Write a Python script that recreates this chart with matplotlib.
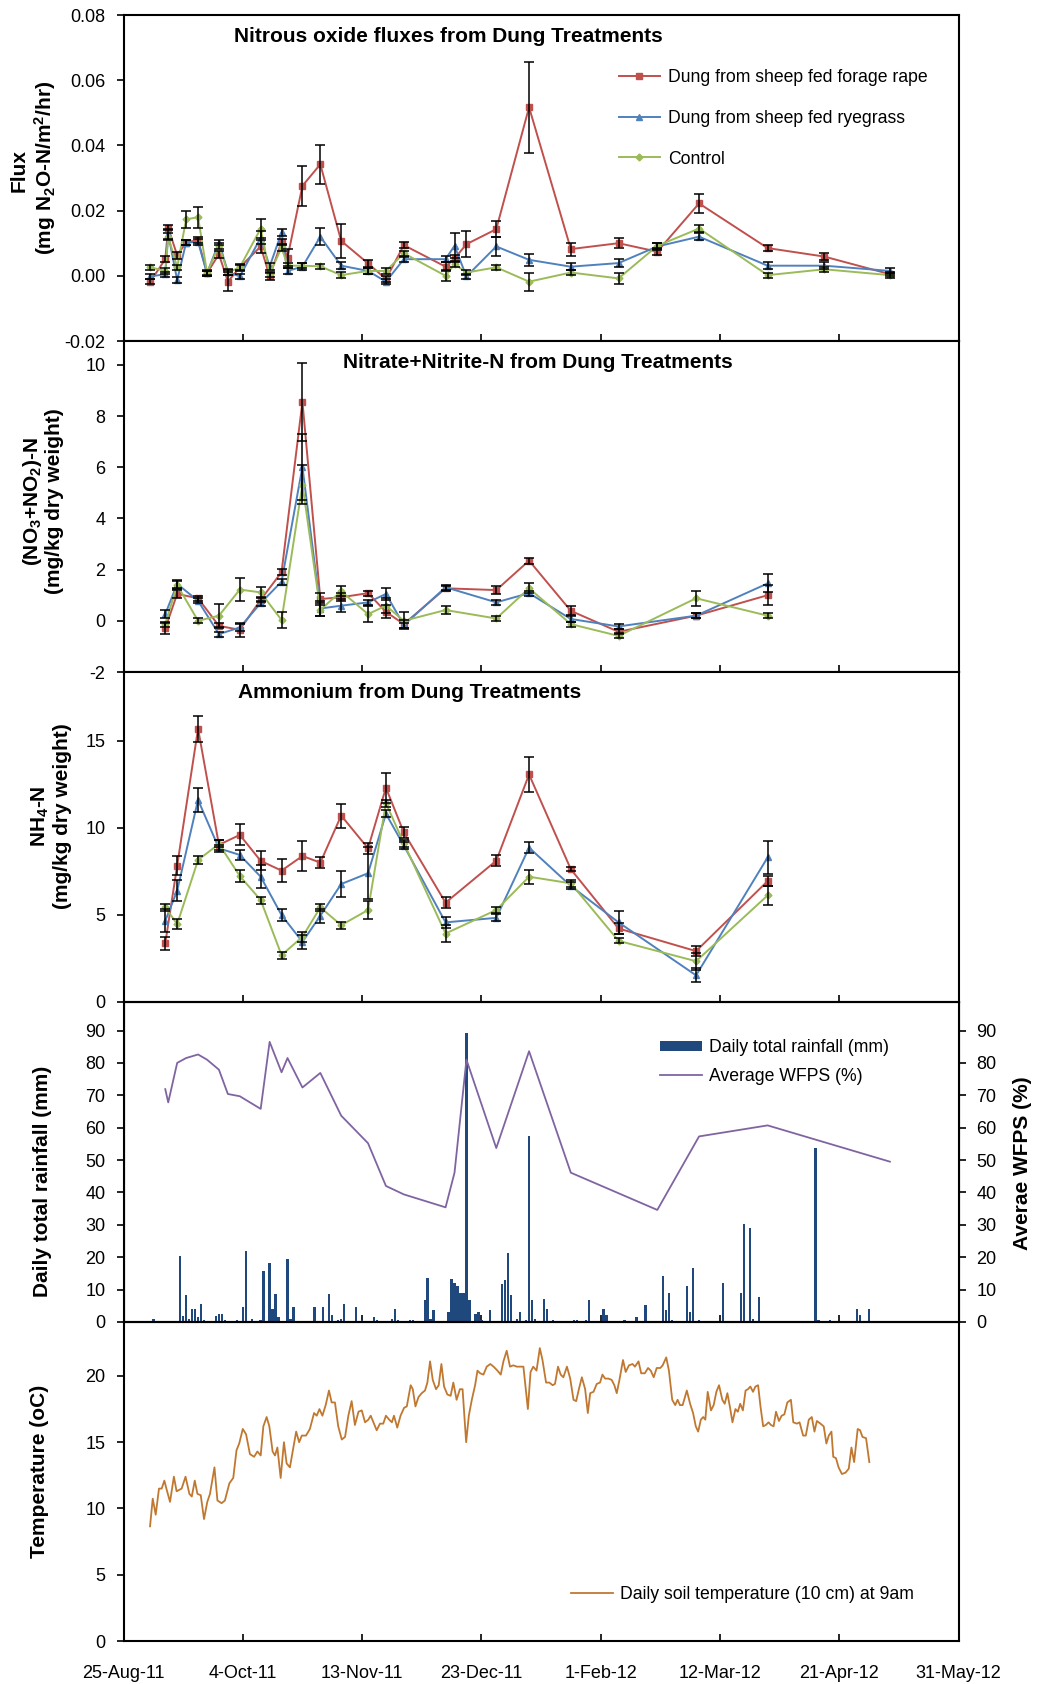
import numpy as np
import matplotlib
matplotlib.use("Agg")
import matplotlib.pyplot as plt
from matplotlib.patches import Patch
from matplotlib.lines import Line2D

plt.rcParams["font.family"] = ["Liberation Sans", "DejaVu Sans"]
plt.rcParams["axes.unicode_minus"] = False
plt.rcParams["mathtext.fontset"] = "custom"
plt.rcParams["mathtext.rm"] = "Liberation Sans:bold"
plt.rcParams["mathtext.bf"] = "Liberation Sans:bold"
plt.rcParams["mathtext.default"] = "bf"

# x axis: days since 25-Aug-11
date_ticks = [0, 40, 80, 120, 160, 200, 240, 280]
date_labels = ["25-Aug-11", "4-Oct-11", "13-Nov-11", "23-Dec-11",
               "1-Feb-12", "12-Mar-12", "21-Apr-12", "31-May-12"]

# nitrous oxide flux (mg N2O-N/m2/hr)
flux_days = [9, 14, 15, 18, 21, 25, 28, 32, 35, 39, 46, 49, 53, 55, 60, 66,
             73, 82, 88, 94, 108, 111, 115, 125, 136, 150, 166, 179, 193, 216, 235, 257]
flux_rape = [-0.0018, 0.0051, 0.0147, 0.0063, 0.0102, 0.0110, 0.0008, 0.0066,
             -0.0018, 0.0026, 0.0090, -0.0002, 0.0104, 0.0056, 0.0276, 0.0342,
             0.0107, 0.0038, -0.0010, 0.0094, 0.0028, 0.0053, 0.0097, 0.0143,
             0.0517, 0.0082, 0.0100, 0.0074, 0.0222, 0.0085, 0.0059, 0.0005]
flux_rape_se = [0.0008, 0.0010, 0.0008, 0.0010, 0.0008, 0.0008, 0.0008, 0.0010,
                0.0030, 0.0010, 0.0020, 0.0010, 0.0010, 0.0025, 0.0061, 0.0060,
                0.0052, 0.0010, 0.0008, 0.0010, 0.0013, 0.0010, 0.0039, 0.0024,
                0.0140, 0.0020, 0.0015, 0.0010, 0.0028, 0.0010, 0.0010, 0.0007]
flux_rye = [-0.0002, 0.0005, 0.0128, -0.0013, 0.0102, 0.0104, 0.0008, 0.0102,
            0.0012, -0.0002, 0.0117, 0.0028, 0.0133, 0.0015, 0.0028, 0.0120,
            0.0031, 0.0015, -0.0018, 0.0051, 0.0051, 0.0092, -0.0002, 0.0090,
            0.0049, 0.0028, 0.0039, 0.0090, 0.0120, 0.0031, 0.0031, 0.0015]
flux_rye_se = [0.0008, 0.0008, 0.0015, 0.0008, 0.0008, 0.0008, 0.0008, 0.0008,
               0.0010, 0.0008, 0.0020, 0.0010, 0.0010, 0.0010, 0.0010, 0.0027,
               0.0010, 0.0008, 0.0008, 0.0008, 0.0010, 0.0038, 0.0008, 0.0028,
               0.0018, 0.0010, 0.0012, 0.0010, 0.0010, 0.0010, 0.0010, 0.0008]
flux_ctrl = [0.0026, 0.0015, 0.0120, 0.0026, 0.0173, 0.0180, 0.0010, 0.0092,
             0.0010, 0.0026, 0.0145, 0.0005, 0.0087, 0.0031, 0.0031, 0.0029,
             0.0002, 0.0015, 0.0015, 0.0069, 0.0000, 0.0036, 0.0010, 0.0026,
             -0.0018, 0.0010, -0.0008, 0.0092, 0.0145, 0.0002, 0.0020, 0.0002]
flux_ctrl_se = [0.0008, 0.0008, 0.0010, 0.0008, 0.0027, 0.0032, 0.0008, 0.0010,
                0.0008, 0.0008, 0.0030, 0.0008, 0.0010, 0.0008, 0.0008, 0.0008,
                0.0010, 0.0008, 0.0008, 0.0008, 0.0017, 0.0010, 0.0008, 0.0008,
                0.0028, 0.0008, 0.0017, 0.0010, 0.0010, 0.0008, 0.0008, 0.0008]

# soil sampling (mg/kg dry weight)
soil_days = [14, 18, 25, 32, 39, 46, 53, 60, 66, 73, 82, 88, 94, 108, 125, 136, 150, 166, 192, 216]
no3_rape = [-0.30, 1.05, 0.88, -0.20, -0.35, 0.82, 1.90, 8.56, 0.85, 0.92,
            1.08, 0.35, -0.13, 1.27, 1.20, 2.35, 0.39, -0.43, 0.20, 1.00]
no3_rape_se = [0.20, 0.15, 0.10, 0.10, 0.28, 0.10, 0.12, 1.53, 0.25, 0.15,
               0.10, 0.25, 0.15, 0.10, 0.15, 0.12, 0.17, 0.10, 0.10, 0.38]
no3_rye = [0.26, 1.44, 0.78, -0.52, -0.26, 0.69, 1.53, 6.01, 0.48, 0.59,
           0.72, 1.05, -0.17, 1.31, 0.72, 1.08, 0.07, -0.22, 0.20, 1.46]
no3_rye_se = [0.15, 0.15, 0.10, 0.10, 0.12, 0.10, 0.12, 1.30, 0.30, 0.25,
              0.10, 0.25, 0.10, 0.10, 0.10, 0.10, 0.10, 0.10, 0.10, 0.35]
no3_ctrl = [-0.13, 1.40, 0.00, 0.20, 1.22, 1.11, 0.03, 5.32, 0.43, 1.15,
            0.26, 0.59, 0.00, 0.42, 0.09, 1.27, -0.13, -0.59, 0.88, 0.20]
no3_ctrl_se = [0.10, 0.15, 0.10, 0.45, 0.44, 0.20, 0.32, 0.75, 0.25, 0.20,
               0.30, 0.30, 0.33, 0.15, 0.10, 0.20, 0.10, 0.10, 0.30, 0.10]

nh4_rape = [3.36, 7.83, 15.69, 9.02, 9.59, 8.10, 7.54, 8.38, 8.00, 10.70,
            8.82, 12.30, 9.73, 5.70, 8.11, 13.06, 7.62, 4.22, 2.92, 6.94]
nh4_rape_se = [0.35, 0.56, 0.75, 0.30, 0.60, 0.55, 0.65, 0.88, 0.30, 0.69,
               0.30, 0.85, 0.30, 0.30, 0.30, 1.02, 0.10, 0.30, 0.30, 0.30]
nh4_rye = [4.66, 6.39, 11.60, 8.82, 8.44, 7.19, 4.99, 3.45, 4.95, 6.77,
           7.39, 10.80, 8.98, 4.57, 4.83, 8.86, 6.66, 4.57, 1.53, 8.30]
nh4_rye_se = [0.65, 0.60, 0.67, 0.20, 0.30, 0.67, 0.35, 0.40, 0.40, 0.75,
              1.50, 0.20, 0.20, 0.30, 0.20, 0.30, 0.20, 0.64, 0.40, 0.93]
nh4_ctrl = [5.43, 4.47, 8.15, 9.07, 7.23, 5.85, 2.69, 3.74, 5.43, 4.41,
            5.28, 11.41, 9.11, 3.93, 5.28, 7.19, 6.81, 3.51, 2.34, 6.12]
nh4_ctrl_se = [0.20, 0.30, 0.25, 0.20, 0.35, 0.20, 0.20, 0.30, 0.20, 0.20,
               0.50, 0.20, 0.20, 0.50, 0.20, 0.40, 0.20, 0.15, 0.50, 0.55]

# daily rainfall (mm)
rain_days = [10, 19, 20, 21, 22, 23, 24, 25, 26, 27, 31, 32, 33, 34, 38, 40, 41, 43,
             46, 47, 49, 50, 51, 52, 55, 56, 57, 64, 67, 69, 70, 72, 73, 74, 78, 80,
             84, 85, 90, 91, 92, 96, 97, 101, 102, 103, 104, 109, 110, 111, 112, 113,
             114, 115, 116, 118, 119, 120, 123, 127, 128, 129, 130, 132, 133, 135,
             136, 137, 138, 141, 142, 144, 151, 152, 155, 156, 161, 162, 168, 172,
             175, 181, 182, 183, 184, 189, 190, 191, 193, 201, 207, 208, 210, 211,
             213, 232, 233, 237, 246, 247, 250]
rain_mm = [1.0, 20.3, 2.0, 8.3, 1.0, 4.1, 4.1, 1.5, 5.7, 0.5, 2.0, 2.4, 2.6, 0.5,
           0.5, 4.6, 21.9, 1.0, 0.5, 15.8, 18.3, 4.1, 8.6, 1.5, 19.3, 1.0, 4.6,
           4.6, 4.6, 8.6, 2.1, 0.5, 1.0, 5.7, 4.6, 0.5, 1.5, 0.5, 1.0, 4.1, 0.5,
           0.5, 0.5, 6.7, 13.7, 1.0, 3.6, 3.1, 13.2, 12.1, 11.1, 9.1, 9.1, 89.3,
           6.7, 2.6, 3.1, 0.5, 3.6, 11.7, 13.1, 21.4, 8.3, 1.0, 3.1, 0.5, 57.3,
           6.7, 1.0, 7.2, 4.1, 0.5, 0.5, 0.5, 0.5, 6.7, 4.1, 2.1, 0.5, 1.5, 5.2,
           14.2, 3.6, 9.1, 0.5, 11.1, 3.1, 16.7, 0.5, 12.1, 9.1, 30.4, 28.9, 1.0,
           7.7, 53.7, 0.5, 0.5, 4.1, 2.1, 4.1]

# average water filled pore space (%)
wfps_days = [14, 15, 18, 21, 25, 28, 32, 35, 39, 46, 49, 53, 55, 60, 66, 73, 82,
             88, 94, 108, 111, 115, 125, 136, 150, 179, 193, 216, 257]
wfps = [71.9, 67.8, 80.0, 81.5, 82.6, 81.0, 77.9, 70.4, 69.7, 65.8, 86.5, 77.1,
        81.5, 72.4, 76.9, 63.7, 55.2, 42.0, 39.4, 35.4, 46.1, 81.0, 53.7, 83.6,
        46.1, 34.6, 57.3, 60.7, 49.5]

# daily soil temperature at 10 cm (oC)
temp_days = [8.9, 9.8, 10.8, 11.9, 12.8, 13.7, 14.5, 15.6, 16.9, 17.8,
             19.5, 20.8, 22.1, 22.9, 23.9, 24.8, 25.9, 27.0, 28.1, 29.0,
             30.5, 31.5, 32.9, 34.0, 35.5, 36.8, 37.9, 38.8, 40.0, 41.1,
             42.4, 43.8, 44.9, 46.0, 46.9, 48.0, 48.9, 50.0, 50.8, 51.6,
             52.7, 53.8, 54.7, 55.8, 56.9, 57.9, 58.9, 59.8, 61.2, 62.5,
             63.9, 64.8, 65.7, 66.7, 67.8, 68.9, 69.8, 70.9, 72.0, 73.2,
             74.3, 75.4, 76.5, 77.6, 78.8, 79.9, 81.0, 82.1, 82.9, 83.8,
             84.9, 86.0, 87.1, 88.0, 89.1, 90.0, 90.7, 91.8, 92.9, 94.1,
             95.0, 96.3, 97.0, 97.9, 98.9, 100.0, 101.1, 101.9, 102.8, 103.7,
             104.8, 105.7, 106.6, 107.5, 108.6, 109.7, 110.6, 111.7, 112.8, 113.7,
             114.9, 115.8, 116.8, 117.9, 118.7, 119.6, 120.7, 121.8, 123.0, 124.1,
             125.4, 126.5, 127.4, 128.5, 129.6, 130.7, 131.9, 133.0, 134.1, 135.6,
             136.5, 137.4, 138.5, 139.6, 140.5, 141.7, 142.8, 143.9, 144.7, 145.7,
             146.6, 147.5, 148.7, 149.8, 150.9, 151.8, 152.7, 153.7, 154.8, 155.7,
             156.5, 157.6, 158.7, 159.8, 160.6, 161.5, 162.6, 163.7, 164.6, 165.4,
             166.3,
             167.5, 168.4, 169.5, 170.7, 171.5, 172.7, 173.6, 174.8, 175.9, 176.8,
             177.8, 178.8, 180.0, 180.8, 182.0, 182.9, 184.0, 185.0, 185.8, 186.6,
             187.5, 188.9, 190.0, 191.0, 191.9, 192.7, 193.6, 194.4, 195.1, 195.9,
             197.0, 197.9, 198.8, 199.7, 200.8, 201.6, 202.5, 203.4, 204.2, 205.2,
             206.0, 206.8, 207.7, 208.6, 209.4, 210.2, 211.1, 211.9, 212.8, 213.6,
             214.5, 215.4, 216.3, 217.1, 218.0, 218.8, 219.8, 220.7, 221.6, 222.6,
             223.8, 224.6, 225.8, 226.7, 227.9, 228.8, 229.8, 230.8, 231.7, 232.5,
             233.7, 234.8, 235.7, 236.5, 237.4, 238.0, 238.9, 239.8, 240.9, 242.1,
             243.2, 244.1, 245.0, 246.2, 247.0, 247.8, 249.0, 250.1]
temp_c = [8.65, 10.74, 9.53, 11.5, 11.5, 12.1, 11.4, 10.5, 12.4, 11.3,
          11.5, 12.4, 11.1, 10.9, 12.1, 11.1, 11.0, 9.2, 10.5, 11.1,
          13.1, 10.6, 10.4, 10.6, 11.9, 12.3, 14.4, 14.9, 16.0, 15.6,
          14.1, 13.9, 14.3, 14.0, 16.2, 16.9, 16.2, 14.3, 14.0, 14.6,
          12.3, 15.0, 13.4, 13.1, 14.5, 15.8, 15.0, 15.5, 15.5, 16.0,
          17.2, 17.0, 17.5, 17.0, 17.8, 18.9, 18.0, 18.0, 16.2, 15.2,
          15.4, 17.0, 18.1, 16.3, 17.3, 17.4, 16.5, 16.7, 17.0, 16.5,
          15.9, 16.4, 16.4, 17.0, 16.7, 16.5, 17.0, 16.1, 17.0, 17.6,
          17.7, 19.3, 19.0, 17.7, 18.4, 18.7, 18.9, 19.5, 21.1, 19.7,
          19.0, 19.3, 20.9, 19.2, 18.6, 18.5, 19.5, 18.2, 19.0, 19.0,
          15.0, 17.0, 18.2, 19.3, 20.4, 20.2, 20.1, 20.7, 20.9, 20.7,
          20.4, 20.1, 21.1, 21.9, 20.7, 20.8, 20.7, 20.7, 20.7, 17.5,
          20.3, 20.7, 20.4, 22.1, 21.2, 19.5, 19.5, 19.3, 19.4, 20.7,
          20.1, 19.9, 20.7, 19.8, 18.2, 18.1, 19.0, 19.9, 19.0, 17.2,
          18.7, 18.8, 19.4, 19.5, 20.1, 19.8, 19.8, 19.7, 19.3, 18.7,
          19.7,
          21.2, 20.3, 20.8, 20.9, 20.7, 21.1, 20.2, 20.2, 20.6, 20.4,
          19.9, 20.6, 20.6, 20.8, 21.4, 20.4, 18.2, 17.8, 18.2, 17.8,
          17.8, 18.9, 17.9, 17.2, 16.2, 15.8, 16.7, 16.9, 16.7, 18.8,
          17.4, 17.8, 18.8, 19.3, 18.2, 17.9, 18.7, 17.6, 16.5, 17.5,
          17.3, 17.9, 17.4, 18.9, 19.0, 19.2, 18.8, 19.2, 19.3, 17.7,
          16.2, 16.3, 16.5, 16.3, 16.2, 17.3, 16.6, 17.0, 17.1, 18.0,
          18.2, 16.5, 16.4, 16.5, 15.5, 15.5, 16.7, 16.9, 15.8, 16.6,
          16.4, 16.2, 14.9, 15.5, 15.8, 13.9, 13.8, 13.1, 12.6, 12.7,
          13.0, 14.6, 13.5, 16.0, 15.9, 15.4, 15.3, 13.5]

assert len(rain_days) == len(rain_mm)
assert len(temp_days) == len(temp_c)

red, blue, green = "#C0504D", "#4F81BD", "#9BBB59"
bar_color, purple, orange = "#1F497D", "#8064A2", "#C07830"
names = ["Dung from sheep fed forage rape", "Dung from sheep fed ryegrass", "Control"]

W, H = 1037, 1684


def rect(top, bottom):
    return [123.5 / W, 1 - bottom / H, 835 / W, (bottom - top) / H]


def fx(x):
    return x / W


def fy(y):
    return 1 - y / H


fig = plt.figure(figsize=(W / 100, H / 100), dpi=100)
ax1 = fig.add_axes(rect(15, 341))
ax2 = fig.add_axes(rect(341, 672))
ax3 = fig.add_axes(rect(672, 1002))
ax4 = fig.add_axes(rect(1002, 1322))
ax5 = fig.add_axes(rect(1322, 1641))


def style(ax):
    ax.set_xlim(0, 280)
    ax.set_xticks(date_ticks)
    ax.set_xticklabels([])
    ax.tick_params(axis="x", direction="in", length=5, width=1.2)
    ax.tick_params(axis="y", direction="out", length=5, width=1.2, labelsize=13, pad=8)
    for s in ax.spines.values():
        s.set_linewidth(1.5)


def series(ax, x, y, err, color, marker, ms, label):
    ax.errorbar(x, y, yerr=err, fmt="none", ecolor="black", elinewidth=1.1,
                capsize=3.5, capthick=1.1, zorder=3)
    ax.plot(x, y, color=color, marker=marker, ms=ms, lw=1.4, label=label, zorder=2)


for ax in (ax1, ax2, ax3, ax4, ax5):
    style(ax)

# panel 1: N2O flux
series(ax1, flux_days, flux_rape, flux_rape_se, red, "s", 5, names[0])
series(ax1, flux_days, flux_rye, flux_rye_se, blue, "^", 5, names[1])
series(ax1, flux_days, flux_ctrl, flux_ctrl_se, green, "D", 3.5, names[2])
ax1.set_ylim(-0.02, 0.08)
ax1.set_yticks(np.arange(-0.02, 0.081, 0.02))
ax1.set_yticklabels(["%.2f" % v for v in np.arange(-0.02, 0.081, 0.02)])
ax1.legend(loc="upper left", bbox_to_anchor=(fx(619), fy(69)), bbox_transform=fig.transFigure,
           frameon=False, fontsize=12.7, handlelength=2.3, handletextpad=0.5,
           labelspacing=1.35, borderpad=0, borderaxespad=0)

# panel 2: nitrate + nitrite
series(ax2, soil_days, no3_rape, no3_rape_se, red, "s", 5, names[0])
series(ax2, soil_days, no3_rye, no3_rye_se, blue, "^", 5, names[1])
series(ax2, soil_days, no3_ctrl, no3_ctrl_se, green, "D", 3.5, names[2])
ax2.set_ylim(-2, 10.93)
ax2.set_yticks(range(-2, 11, 2))

# panel 3: ammonium
series(ax3, soil_days, nh4_rape, nh4_rape_se, red, "s", 5, names[0])
series(ax3, soil_days, nh4_rye, nh4_rye_se, blue, "^", 5, names[1])
series(ax3, soil_days, nh4_ctrl, nh4_ctrl_se, green, "D", 3.5, names[2])
ax3.set_ylim(0, 18.94)
ax3.set_yticks(range(0, 16, 5))

# panel 4: rainfall and WFPS
ax4.bar(rain_days, rain_mm, width=0.8, color=bar_color, zorder=2)
ax4.set_ylim(0, 98.8)
ax4.set_yticks(range(0, 91, 10))
ax4r = ax4.twinx()
ax4r.plot(wfps_days, wfps, color=purple, lw=1.3)
ax4r.set_ylim(0, 98.8)
ax4r.set_yticks(range(0, 91, 10))
ax4r.tick_params(axis="y", direction="out", length=5, width=1.2, labelsize=13, pad=8)
ax4.legend([Patch(facecolor=bar_color), Line2D([], [], color=purple, lw=1.3)],
           ["Daily total rainfall (mm)", "Average WFPS (%)"],
           loc="upper left", bbox_to_anchor=(fx(660), fy(1039)), bbox_transform=fig.transFigure,
           frameon=False, fontsize=12.7, handlelength=2.4, handleheight=0.5,
           handletextpad=0.4, labelspacing=0.68, borderpad=0, borderaxespad=0)

# panel 5: soil temperature
ax5.plot(temp_days, temp_c, color=orange, lw=1.3, label="Daily soil temperature (10 cm) at 9am")
ax5.set_ylim(0, 24.07)
ax5.set_yticks(range(0, 21, 5))
ax5.set_xticklabels(date_labels)
ax5.tick_params(axis="x", labelsize=13, pad=17)
ax5.legend(loc="upper left", bbox_to_anchor=(fx(571), fy(1586)), bbox_transform=fig.transFigure,
           frameon=False, fontsize=12.7, handlelength=2.4, handletextpad=0.4,
           borderpad=0, borderaxespad=0)

# titles
fig.text(fx(448), fy(36), "Nitrous oxide fluxes from Dung Treatments",
         ha="center", va="center", fontsize=15, fontweight="bold")
fig.text(fx(538), fy(363), "Nitrate+Nitrite-N from Dung Treatments",
         ha="center", va="center", fontsize=15, fontweight="bold")
fig.text(fx(410), fy(693), "Ammonium from Dung Treatments",
         ha="center", va="center", fontsize=15, fontweight="bold")

# axis labels
lab = dict(ha="center", va="center", rotation=90, fontsize=15, fontweight="bold")
fig.text(fx(19), fy(170), "Flux", **lab)
fig.text(fx(45), fy(168), "(mg N$_2$O-N/m$^2$/hr)", **lab)
fig.text(fx(32), fy(501), "(NO$_3$+NO$_2$)-N", **lab)
fig.text(fx(55), fy(501), "(mg/kg dry weight)", **lab)
fig.text(fx(40), fy(816), "NH$_4$-N", **lab)
fig.text(fx(63), fy(816), "(mg/kg dry weight)", **lab)
fig.text(fx(43), fy(1181), "Daily total rainfall (mm)", **lab)
fig.text(fx(1023), fy(1163), "Averae WFPS (%)", **lab)
fig.text(fx(40), fy(1471), "Temperature (oC)", **lab)

fig.savefig("out.png", dpi=100)
